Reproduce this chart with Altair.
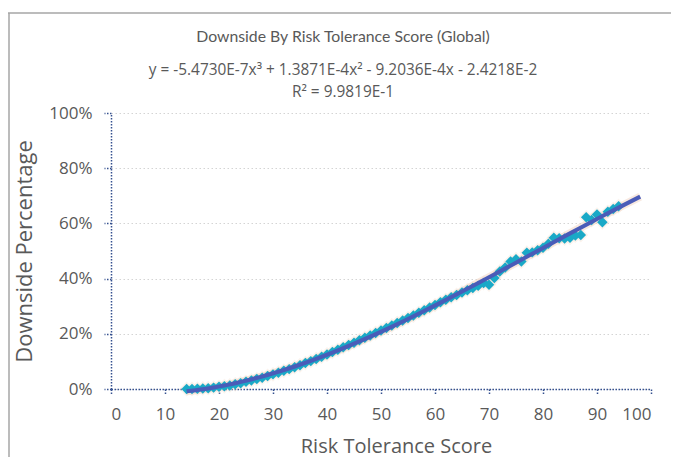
import altair as alt
import pandas as pd

scores = list(range(14, 95))
downside = [
    0.000, 0.000, 0.001, 0.002, 0.003, 0.005, 0.008, 0.010, 0.013, 0.017,
    0.021, 0.026, 0.031, 0.036, 0.041, 0.047, 0.053, 0.059, 0.066, 0.072,
    0.079, 0.086, 0.094, 0.101, 0.109, 0.117, 0.125, 0.134, 0.142, 0.151,
    0.159, 0.168, 0.177, 0.186, 0.194, 0.203, 0.212, 0.221, 0.230, 0.239,
    0.248, 0.257, 0.266, 0.276, 0.285, 0.295, 0.304, 0.314, 0.323, 0.332,
    0.341, 0.350, 0.358, 0.366, 0.374, 0.384, 0.378, 0.402, 0.426, 0.440,
    0.462, 0.470, 0.462, 0.494, 0.495, 0.503, 0.512, 0.526, 0.548, 0.546,
    0.545, 0.548, 0.556, 0.558, 0.622, 0.612, 0.632, 0.604, 0.642, 0.652,
    0.662,
]
x_ticks = list(range(0, 101, 10))
y_ticks = [0, 0.2, 0.4, 0.6, 0.8, 1.0]

title_text = "Downside By Risk Tolerance Score (Global)"
equation_text = "y = -5.4730E-7x³ + 1.3871E-4x² - 9.2036E-4x - 2.4218E-2"
r2_text = "R² = 9.9819E-1"

df = pd.DataFrame({"Score": scores, "Downside": downside})

FONT = "Open Sans"
NARROW = "Lato"
TXT = "#595959"
AXC = "#35508f"

x_enc = alt.X("Score:Q", scale=alt.Scale(domain=[0, 100], nice=False),
              axis=alt.Axis(values=x_ticks, title="Risk Tolerance Score", grid=False,
                            titleX=285, titleY=63, titleBaseline="alphabetic",
                            titleAlign="center", titleFontSize=20))
y_enc = alt.Y("Downside:Q", scale=alt.Scale(domain=[0, 1], nice=False),
              axis=alt.Axis(values=y_ticks, format=".0%", title="Downside Percentage",
                            grid=True, titleFontSize=22))

base = alt.Chart(df)

glow_pts = base.mark_point(shape="diamond", filled=True, size=220,
                           color="#f3d6c4", opacity=0.3).encode(x=x_enc, y=y_enc)
pts = base.mark_point(shape="diamond", filled=True, size=110,
                      color="#1aa9c7", opacity=1).encode(x=x_enc, y=y_enc)

trend_glow = base.transform_regression(
    "Score", "Downside", method="poly", order=3, extent=[14, 98]
).mark_line(color="#f2d4c2", strokeWidth=8, opacity=0.5).encode(x="Score:Q", y="Downside:Q")
trend = base.transform_regression(
    "Score", "Downside", method="poly", order=3, extent=[14, 98]
).mark_line(color="#4a5cb8", strokeWidth=4).encode(x="Score:Q", y="Downside:Q")

tdf = pd.DataFrame({"t": [title_text]})
edf = pd.DataFrame({"t": [equation_text]})
rdf = pd.DataFrame({"t": [r2_text]})
title_m = alt.Chart(tdf).mark_text(font=NARROW, fontSize=15.8, color=TXT, align="center",
                                   baseline="alphabetic").encode(
    text="t:N", x=alt.value(232), y=alt.value(-71))
eq_m = alt.Chart(edf).mark_text(font=FONT, fontSize=15.4, color=TXT, align="center",
                                baseline="alphabetic").encode(
    text="t:N", x=alt.value(232), y=alt.value(-38))
r2_m = alt.Chart(rdf).mark_text(font=FONT, fontSize=15.4, color=TXT, align="center",
                                baseline="alphabetic").encode(
    text="t:N", x=alt.value(232), y=alt.value(-16))

frame_top = alt.Chart(tdf).mark_rule(color="#a6a6a6", strokeWidth=1.5).encode(
    x=alt.value(-103), x2=alt.value(560), y=alt.value(-100))
frame_left = alt.Chart(tdf).mark_rule(color="#a6a6a6", strokeWidth=1.5).encode(
    x=alt.value(-102), y=alt.value(-100), y2=alt.value(400))

chart = alt.layer(
    frame_top, frame_left, glow_pts, trend_glow, pts, trend, title_m, eq_m, r2_m
).properties(
    width=540, height=276,
    autosize=alt.AutoSizeParams(type="none"),
    padding={"left": 103, "top": 105, "right": 20, "bottom": 68},
).configure_view(stroke=None).configure_axis(
    labelFont=FONT, titleFont=FONT, labelColor=TXT, titleColor=TXT,
    titleFontWeight="normal", labelFontSize=17, titleFontSize=20,
    domainColor=AXC, domainDash=[1.5, 1.5], domainWidth=1.5,
    tickColor=AXC, tickDash=[1.5, 1.5], tickWidth=1.5,
    gridColor="#d4d4d4", gridDash=[1.5, 2.5], gridWidth=1,
).configure_axisX(
    tickSize=6, labelPadding=11,
).configure_axisY(
    tickSize=7, labelPadding=12, titlePadding=12,
)

chart.save("out.html", embed_options={"renderer": "svg", "actions": False})
